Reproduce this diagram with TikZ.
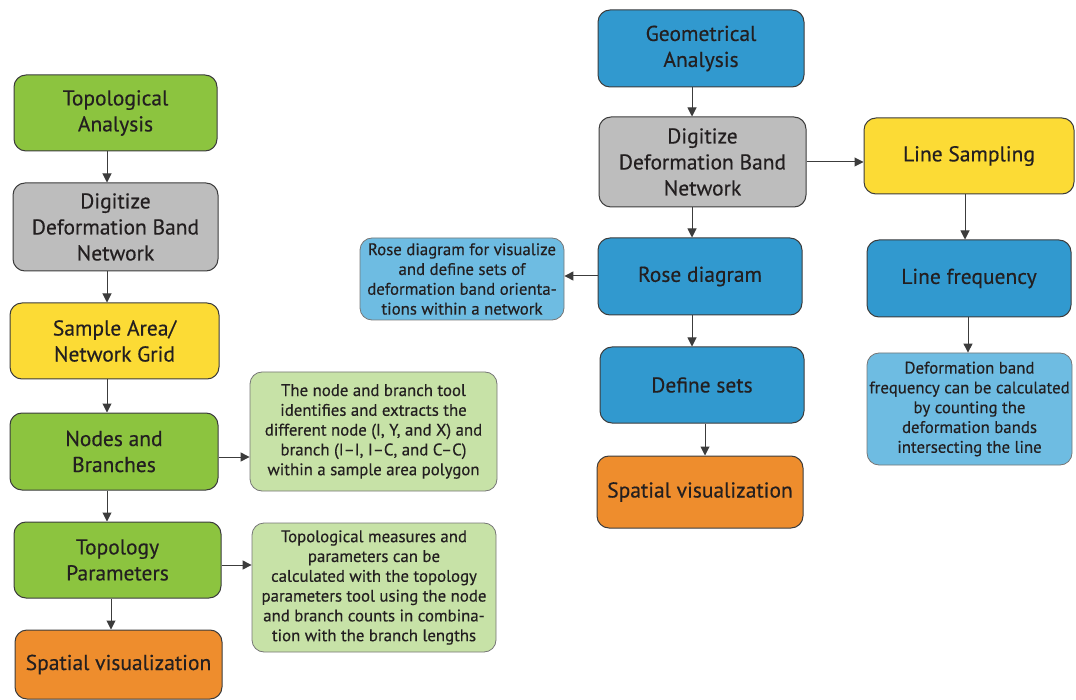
\documentclass[tikz,border=0pt]{standalone}
\usepackage{fontspec}
\setmainfont{PT Sans}[FakeBold=0.35]
\usetikzlibrary{arrows.meta}
\definecolor{txt}{HTML}{231F20}
\definecolor{edge}{HTML}{3C3C3C}
\definecolor{cgreen}{HTML}{8CC43F}
\definecolor{cgray}{HTML}{BDBDBD}
\definecolor{cyellow}{HTML}{FCDB35}
\definecolor{cblue}{HTML}{3199CF}
\definecolor{corange}{HTML}{EE8D2D}
\definecolor{cpalegreen}{HTML}{C7E2A7}
\definecolor{cpaleblue}{HTML}{6EBCE2}
\tikzset{
  box/.style={draw=edge, line width=1pt, rounded corners=12pt, inner sep=0pt,
    align=center, text=txt, font=\fontsize{21.5}{26}\selectfont},
  note/.style={draw=edge!70, line width=0.8pt, rounded corners=12pt, inner sep=0pt,
    align=center, text=txt, font=\fontsize{16.8}{19.8}\selectfont},
  arr/.style={draw=edge, line width=1pt, -{Triangle[length=9pt,width=9pt]}},
}
\begin{document}
\begin{tikzpicture}[x=1pt,y=-1pt]
\useasboundingbox (0,0) rectangle (1076,700);

% left column: topological analysis
\node[box, fill=cgreen,  minimum width=203pt, minimum height=76pt] (topo)  at (115.5,113)   {Topological\\Analysis};
\node[box, fill=cgray,   minimum width=205pt, minimum height=88pt] (digL)  at (115.5,227)   {Digitize\\Deformation Band\\Network};
\node[box, fill=cyellow, minimum width=209pt, minimum height=76pt] (samp)  at (114.5,341)   {Sample Area/\\Network Grid};
\node[box, fill=cgreen,  minimum width=208pt, minimum height=77pt] (nodes) at (114,451.5)   {Nodes and\\Branches};
\node[box, fill=cgreen,  minimum width=207pt, minimum height=76pt] (tpar)  at (117.5,560)   {Topology\\Parameters};
\node[box, fill=corange, minimum width=207pt, minimum height=69pt] (spatL) at (118.5,664.5) {Spatial visualization};

\node[note, fill=cpalegreen, minimum width=247pt, minimum height=119pt] (noteNB) at (373.5,431.5)
  {The node and branch tool\\identifies and extracts the\\different node (I, Y, and X) and\\branch (I--I, I--C, and C--C)\\within a sample area polygon};
\node[note, fill=cpalegreen, minimum width=244pt, minimum height=129pt] (noteTP) at (374,587.5)
  {Topological measures and\\parameters can be\\calculated with the topology\\parameters tool using the node\\and branch counts in combina-\\tion with the branch lengths};

% right part: geometrical analysis
\node[box, fill=cblue,   minimum width=206pt, minimum height=77pt] (geo)   at (701,48.5)  {Geometrical\\Analysis};
\node[box, fill=cgray,   minimum width=207pt, minimum height=90pt] (digR)  at (702.5,162) {Digitize\\Deformation Band\\Network};
\node[box, fill=cyellow, minimum width=210pt, minimum height=76pt] (lsamp) at (969,156)   {Line Sampling};
\node[box, fill=cblue,   minimum width=204pt, minimum height=77pt] (rose)  at (700,276.5) {Rose diagram};
\node[box, fill=cblue,   minimum width=204pt, minimum height=77pt] (lfreq) at (969,278.5) {Line frequency};
\node[box, fill=cblue,   minimum width=204pt, minimum height=76pt] (defs)  at (702,385)   {Define sets};
\node[box, fill=corange, minimum width=206pt, minimum height=72pt] (spatR) at (700,492)   {Spatial visualization};

\node[note, fill=cpaleblue, minimum width=204pt, minimum height=82pt] (noteR) at (462,279)
  {Rose diagram for visualize\\and define sets of\\deformation band orienta-\\tions within a network};
\node[note, fill=cpaleblue, minimum width=205pt, minimum height=112pt] (noteF) at (969.5,409)
  {Deformation band\\frequency can be calculated\\by counting the\\deformation bands\\intersecting the line};

% arrow columns and rows
\coordinate (cL)  at (107,0);
\coordinate (cL2) at (111,0);
\coordinate (cR)  at (692,0);
\coordinate (cR2) at (705,0);
\coordinate (cF)  at (965,0);
\coordinate (cF2) at (968,0);
\coordinate (rNB) at (0,457);
\coordinate (rTP) at (0,565);
\coordinate (rRo) at (0,276);
\coordinate (rDi) at (0,162);

\draw[arr] (topo.south -| cL)  -- (digL.north -| cL);
\draw[arr] (digL.south -| cL)  -- (samp.north -| cL);
\draw[arr] (samp.south -| cL)  -- (nodes.north -| cL);
\draw[arr] (nodes.south -| cL) -- (tpar.north -| cL);
\draw[arr] (tpar.south -| cL2) -- (spatL.north -| cL2);
\draw[arr] (nodes.east |- rNB) -- (noteNB.west |- rNB);
\draw[arr] (tpar.east |- rTP)  -- (noteTP.west |- rTP);

\draw[arr] (geo.south -| cR)   -- (digR.north -| cR);
\draw[arr] (digR.south -| cR)  -- (rose.north -| cR);
\draw[arr] (rose.south -| cR)  -- (defs.north -| cR);
\draw[arr] (defs.south -| cR2) -- (spatR.north -| cR2);
\draw[arr] (rose.west |- rRo)  -- (noteR.east |- rRo);
\draw[arr] (digR.east |- rDi)  -- (lsamp.west |- rDi);
\draw[arr] (lsamp.south -| cF) -- (lfreq.north -| cF);
\draw[arr] (lfreq.south -| cF2) -- (noteF.north -| cF2);
\end{tikzpicture}
\end{document}
